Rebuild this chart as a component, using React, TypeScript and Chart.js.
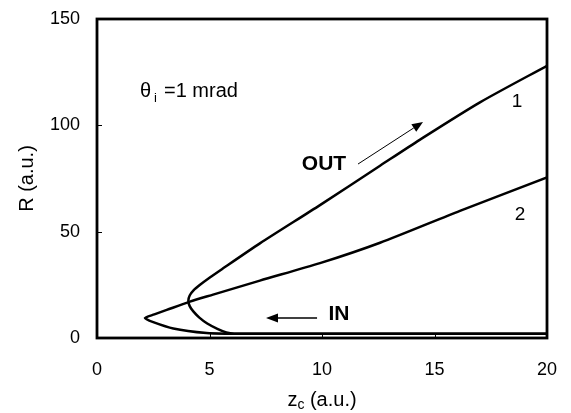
import React, { useEffect, useRef } from "react";
import { Chart, registerables } from "chart.js";

Chart.register(...registerables);

// Axis ticks
const xTickValues = [0, 5, 10, 15, 20];
const yTickValues = [0, 50, 100, 150];

// Trajectory 1: comes in along the axis, turns near z ≈ 4, leaves steeply
const curve1Z = [20, 9, 7, 6.1, 5.75, 5.35, 4.9, 4.55, 4.28, 4.12, 4.06, 4.12, 4.3, 4.58, 5.0, 5.5, 7.24, 9.91, 12.58, 14.36, 17.02, 20];
const curve1R = [2, 2, 2, 2, 2.6, 4.3, 6.8, 9.6, 12.5, 15.0, 17.5, 20.0, 22.5, 25.0, 28.3, 32.0, 44.5, 62.5, 81, 93.3, 110.8, 128];

// Trajectory 2: comes in along the axis, turns near z ≈ 2, leaves more gently
const curve2Z = [20, 9, 7, 5.8, 4.87, 3.39, 2.5, 2.13, 2.55, 3.1, 4.13, 5.16, 7.24, 9.91, 12.58, 16.13, 20];
const curve2R = [2, 2, 2, 2.0, 2.3, 4.5, 7.5, 9.4, 11.1, 13.2, 17.1, 20.4, 27.0, 35.2, 44.8, 59.8, 75.5];

// Annotation anchors in data units
const outLabel = { z: 10.09, r: 81.5, text: "OUT" };
const inLabel = { z: 10.75, r: 11.3, text: "IN" };
const outArrow = { from: [11.6, 81.8], to: [14.49, 101.6] };
const inArrow = { from: [9.78, 9.4], to: [7.51, 9.4] };
const curveNames = [
  { z: 18.67, r: 111, text: "1" },
  { z: 18.8, r: 58, text: "2" },
];
const angleLabel = { z: 1.91, r: 113.3 };

const FONT = "'Liberation Sans', Arial, Helvetica, sans-serif";

const toPoints = (zs: number[], rs: number[]) => zs.map((z, i) => ({ x: z, y: rs[i] }));

function drawArrow(ctx: CanvasRenderingContext2D, x1: number, y1: number, x2: number, y2: number, lw: number, headLen: number, headW: number) {
  const ang = Math.atan2(y2 - y1, x2 - x1);
  const bx = x2 - headLen * Math.cos(ang);
  const by = y2 - headLen * Math.sin(ang);
  ctx.save();
  ctx.strokeStyle = "#000";
  ctx.fillStyle = "#000";
  ctx.lineWidth = lw;
  ctx.beginPath();
  ctx.moveTo(x1, y1);
  ctx.lineTo(bx, by);
  ctx.stroke();
  ctx.beginPath();
  ctx.moveTo(x2, y2);
  ctx.lineTo(bx + (headW / 2) * Math.sin(ang), by - (headW / 2) * Math.cos(ang));
  ctx.lineTo(bx - (headW / 2) * Math.sin(ang), by + (headW / 2) * Math.cos(ang));
  ctx.closePath();
  ctx.fill();
  ctx.restore();
}

const decorations = {
  id: "decorations",
  afterDatasetsDraw(chart: any) {
    const { ctx, chartArea, scales } = chart;
    const xs = scales.x;
    const ys = scales.y;
    const px = (v: number) => xs.getPixelForValue(v);
    const py = (v: number) => ys.getPixelForValue(v);
    const { left, right, top, bottom } = chartArea;

    ctx.save();
    // frame
    ctx.strokeStyle = "#000";
    ctx.lineWidth = 2.8;
    ctx.strokeRect(left, top, right - left, bottom - top);

    // inward tick marks
    ctx.lineWidth = 1;
    ctx.beginPath();
    xTickValues.slice(1, -1).forEach((v) => {
      const x = Math.round(px(v)) + 0.5;
      ctx.moveTo(x, bottom);
      ctx.lineTo(x, bottom - 5);
    });
    yTickValues.slice(1, -1).forEach((v) => {
      const y = Math.round(py(v)) + 0.5;
      ctx.moveTo(left, y);
      ctx.lineTo(left + 5, y);
    });
    ctx.stroke();

    ctx.fillStyle = "#000";

    // axis titles
    ctx.font = `20px ${FONT}`;
    ctx.textBaseline = "middle";
    ctx.textAlign = "center";
    ctx.save();
    ctx.translate(left - 70, (top + bottom) / 2);
    ctx.rotate(-Math.PI / 2);
    ctx.fillText("R (a.u.)", 0, 0);
    ctx.restore();

    const zMain = "z";
    const zSub = "c";
    const zRest = " (a.u.)";
    ctx.font = `20px ${FONT}`;
    const wMain = ctx.measureText(zMain).width;
    const wRest = ctx.measureText(zRest).width;
    ctx.font = `14px ${FONT}`;
    const wSub = ctx.measureText(zSub).width;
    const total = wMain + wSub + wRest;
    let tx = (left + right) / 2 - total / 2;
    const tyBase = bottom + 68;
    ctx.textAlign = "left";
    ctx.textBaseline = "alphabetic";
    ctx.font = `20px ${FONT}`;
    ctx.fillText(zMain, tx, tyBase);
    tx += wMain;
    ctx.font = `14px ${FONT}`;
    ctx.fillText(zSub, tx, tyBase + 3);
    tx += wSub;
    ctx.font = `20px ${FONT}`;
    ctx.fillText(zRest, tx, tyBase);

    // incidence-angle note
    let ax = px(angleLabel.z);
    const ay = py(angleLabel.r);
    ctx.font = `20px ${FONT}`;
    ctx.fillText("θ", ax, ay);
    ax += ctx.measureText("θ").width + 3;
    ctx.font = `13px ${FONT}`;
    ctx.fillText("i", ax, ay + 5);
    ax += ctx.measureText("i").width + 7;
    ctx.font = `20px ${FONT}`;
    ctx.fillText("=1 mrad", ax, ay);

    // direction labels
    ctx.textAlign = "center";
    ctx.textBaseline = "middle";
    ctx.font = `bold 21px ${FONT}`;
    ctx.fillText(outLabel.text, px(outLabel.z), py(outLabel.r));
    ctx.font = `bold 21px ${FONT}`;
    ctx.fillText(inLabel.text, px(inLabel.z), py(inLabel.r));

    // curve numbers
    ctx.font = `19px ${FONT}`;
    curveNames.forEach((c) => ctx.fillText(c.text, px(c.z), py(c.r)));

    // arrows
    drawArrow(ctx, px(outArrow.from[0]), py(outArrow.from[1]), px(outArrow.to[0]), py(outArrow.to[1]), 1, 11, 9);
    drawArrow(ctx, px(inArrow.from[0]), py(inArrow.from[1]), px(inArrow.to[0]), py(inArrow.to[1]), 1.5, 12, 9);

    ctx.restore();
  },
};

const zeroPadding = (s: any) => {
  s.paddingTop = 0;
  s.paddingBottom = 0;
  s.paddingLeft = 0;
  s.paddingRight = 0;
};

export default function App() {
  const canvasRef = useRef<HTMLCanvasElement | null>(null);

  useEffect(() => {
    const canvas = canvasRef.current;
    if (!canvas) return;
    const lineStyle = {
      showLine: true,
      borderColor: "#000",
      borderWidth: 2.5,
      pointRadius: 0,
      tension: 0.25,
      fill: false,
    };
    const tickFont = { family: FONT, size: 18 };
    const chart = new Chart(canvas, {
      type: "scatter",
      data: {
        datasets: [
          { ...lineStyle, label: "1", data: toPoints(curve1Z, curve1R) },
          { ...lineStyle, label: "2", data: toPoints(curve2Z, curve2R) },
        ],
      },
      options: {
        animation: false,
        responsive: false,
        maintainAspectRatio: false,
        layout: { padding: { top: 19, right: 24, left: 0, bottom: 0 } },
        plugins: { legend: { display: false }, tooltip: { enabled: false } },
        scales: {
          x: {
            type: "linear",
            min: 0,
            max: 20,
            afterBuildTicks: (s: any) => {
              s.ticks = xTickValues.map((v) => ({ value: v }));
            },
            afterFit: (s: any) => {
              s.height = 75;
              zeroPadding(s);
            },
            grid: { display: false, drawTicks: false },
            border: { display: false },
            ticks: { padding: 21, color: "#000", font: tickFont, maxRotation: 0 },
          },
          y: {
            type: "linear",
            min: 0,
            max: 150,
            afterBuildTicks: (s: any) => {
              s.ticks = yTickValues.map((v) => ({ value: v }));
            },
            afterFit: (s: any) => {
              s.width = 97;
              zeroPadding(s);
            },
            grid: { display: false, drawTicks: false },
            border: { display: false },
            ticks: { padding: 17, color: "#000", font: tickFont },
          },
        },
      },
      plugins: [decorations],
    } as any);
    return () => chart.destroy();
  }, []);

  return (
    <div style={{ position: "absolute", left: 0, top: 0, width: 571, height: 413, background: "#fff" }}>
      <canvas ref={canvasRef} width={571} height={413} style={{ display: "block" }} />
    </div>
  );
}
